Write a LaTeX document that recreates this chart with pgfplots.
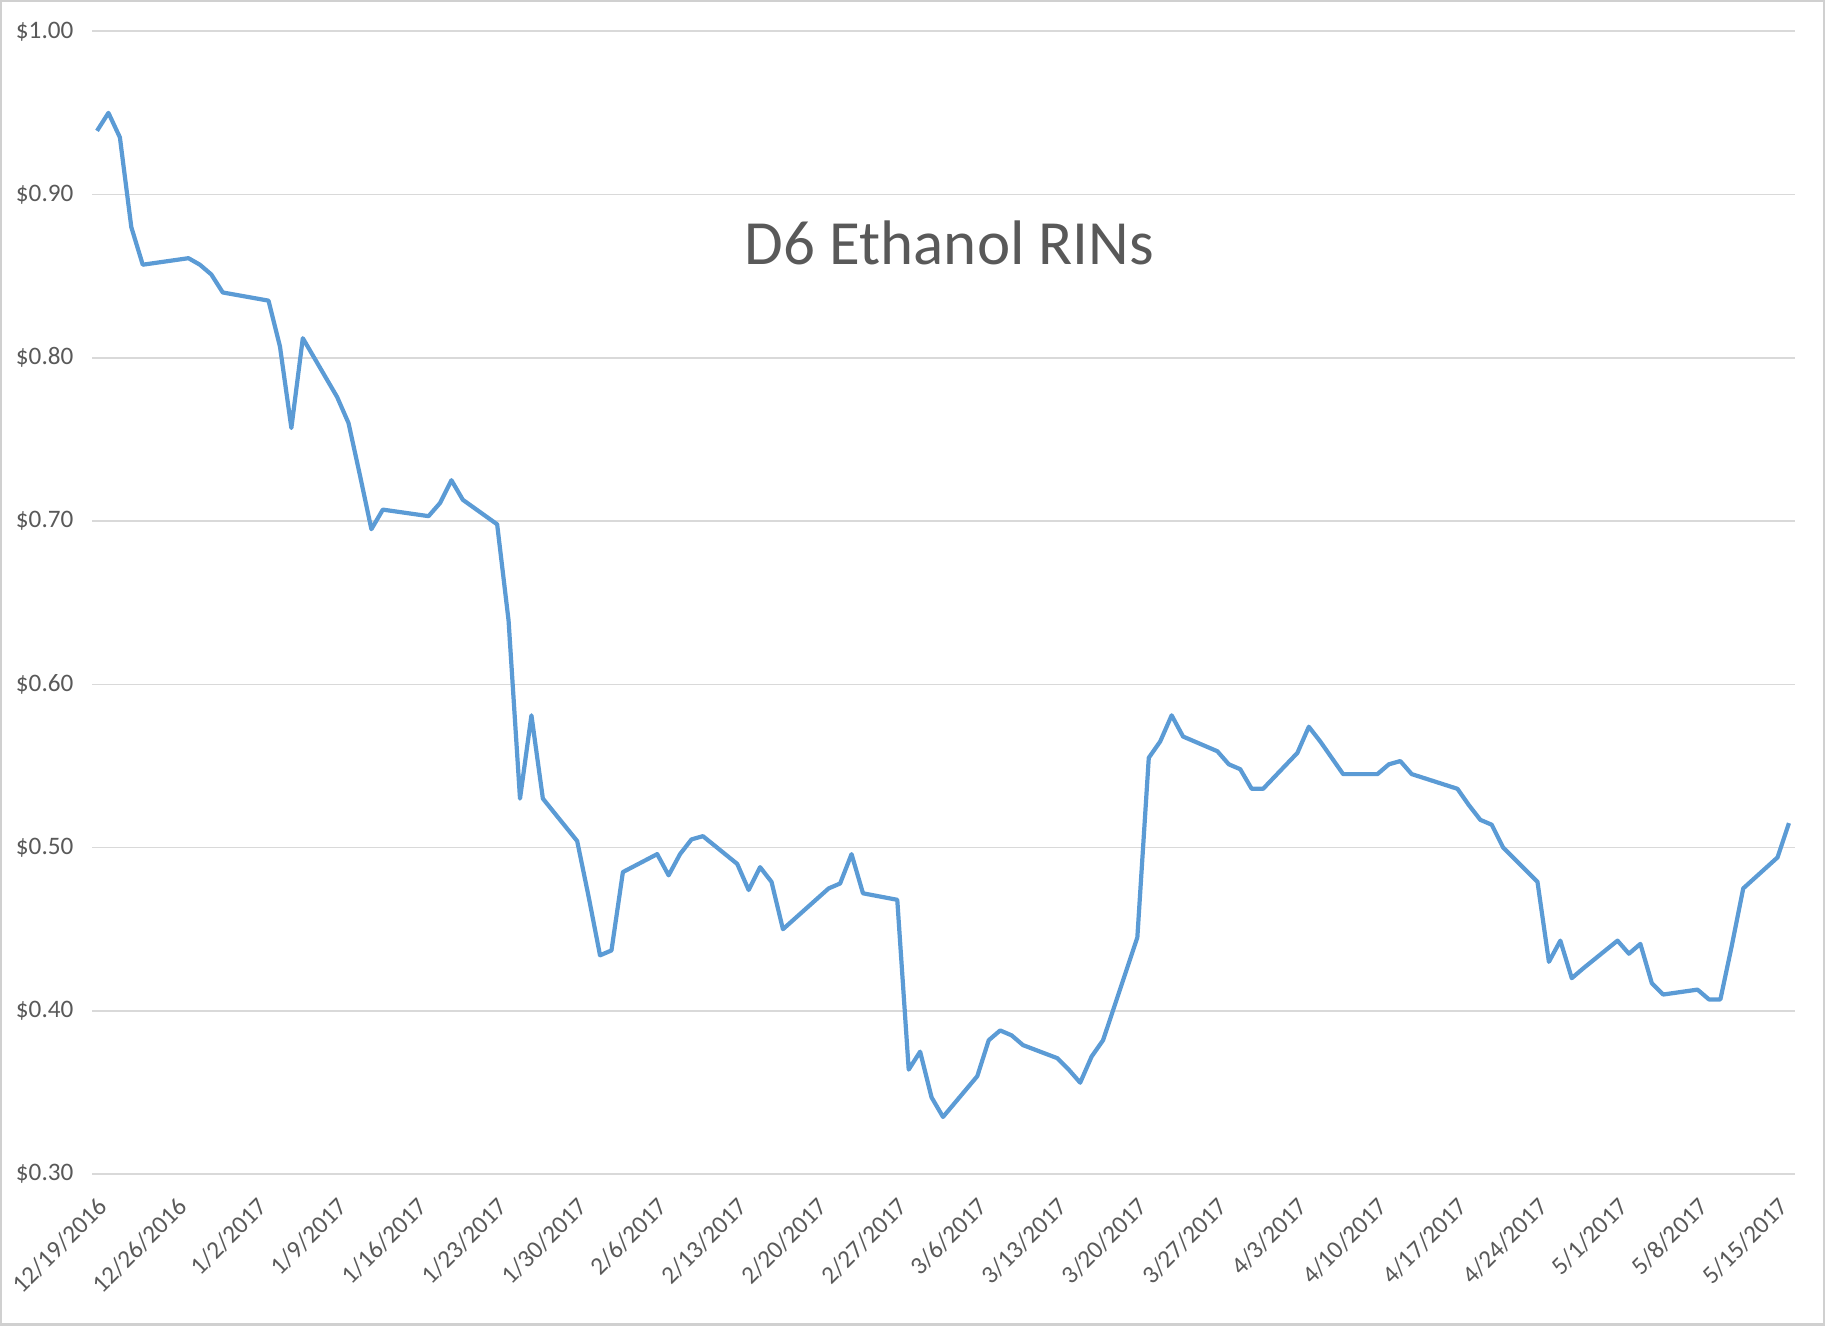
\documentclass[border=0pt]{standalone}
\usepackage{pgfplots}
\pgfplotsset{compat=1.18}
\usepackage{fontspec}
\setmainfont{Carlito}
\definecolor{linecol}{HTML}{5B9BD5}
\definecolor{txtcol}{HTML}{595959}
\definecolor{gridcol}{HTML}{D9D9D9}
\definecolor{framecol}{HTML}{D0D0D0}
\begin{document}
\begin{tikzpicture}
\begin{axis}[
  scale only axis,
  width=849bp, height=570bp,
  xmin=-0.4, xmax=148.5,
  ymin=0.3, ymax=1.0,
  axis line style={draw=none},
  major tick length=0pt,
  xtick={0,7,14,21,28,35,42,49,56,63,70,77,84,91,98,105,112,119,126,133,140,147},
  xticklabels={12/19/2016,12/26/2016,1/2/2017,1/9/2017,1/16/2017,1/23/2017,1/30/2017,2/6/2017,2/13/2017,2/20/2017,2/27/2017,3/6/2017,3/13/2017,3/20/2017,3/27/2017,4/3/2017,4/10/2017,4/17/2017,4/24/2017,5/1/2017,5/8/2017,5/15/2017},
  ytick={0.3,0.4,0.5,0.6,0.7,0.8,0.9,1.0},
  yticklabels={\$0.30,\$0.40,\$0.50,\$0.60,\$0.70,\$0.80,\$0.90,\$1.00},
  ymajorgrids=true,
  grid style={gridcol, line width=0.8bp},
  tick label style={font=\fontsize{12.6}{14}\selectfont, text=txtcol},
  yticklabel style={xshift=-6bp},
  xticklabel style={xshift=3bp, rotate=45, anchor=east, inner sep=0pt},
  xticklabel shift=14bp,
  clip=false,
]
\addplot[linecol, line width=2.1bp, line join=round] coordinates {
(0,0.939) (1,0.950) (2,0.935) (3,0.880) (4,0.857)
(8,0.861) (9,0.857) (10,0.851) (11,0.840)
(15,0.835) (16,0.807) (17,0.757) (18,0.812)
(21,0.776) (22,0.760) (23,0.728) (24,0.695) (25,0.707)
(29,0.703) (30,0.711) (31,0.725) (32,0.713)
(35,0.698) (36,0.639) (37,0.530) (38,0.581) (39,0.530)
(42,0.504) (43,0.470) (44,0.434) (45,0.437) (46,0.485)
(49,0.496) (50,0.483) (51,0.496) (52,0.505) (53,0.507)
(56,0.490) (57,0.474) (58,0.488) (59,0.479) (60,0.450)
(64,0.475) (65,0.478) (66,0.496) (67,0.472)
(70,0.468) (71,0.364) (72,0.375) (73,0.347) (74,0.335)
(77,0.360) (78,0.382) (79,0.388) (80,0.385) (81,0.379)
(84,0.371) (85,0.364) (86,0.356) (87,0.372) (88,0.382)
(91,0.445) (92,0.555) (93,0.565) (94,0.581) (95,0.568)
(98,0.559) (99,0.551) (100,0.548) (101,0.536) (102,0.536)
(105,0.558) (106,0.574) (107,0.565) (108,0.555) (109,0.545)
(112,0.545) (113,0.551) (114,0.553) (115,0.545)
(119,0.536) (120,0.526) (121,0.517) (122,0.514) (123,0.500)
(126,0.479) (127,0.430) (128,0.443) (129,0.420) (130,0.426)
(133,0.443) (134,0.435) (135,0.441) (136,0.417) (137,0.410)
(140,0.413) (141,0.407) (142,0.407) (143,0.440) (144,0.475)
(147,0.494) (148,0.515)
};
\node[anchor=base, text=txtcol, font=\fontsize{31.5}{36}\selectfont] at (rel axis cs:0.5035,0.7956) {D6 Ethanol RINs};
\draw[framecol, line width=1.2bp] (rel axis cs:-0.0536,-0.1316) rectangle (rel axis cs:1.0171,1.0263);
\end{axis}
\end{tikzpicture}
\end{document}
